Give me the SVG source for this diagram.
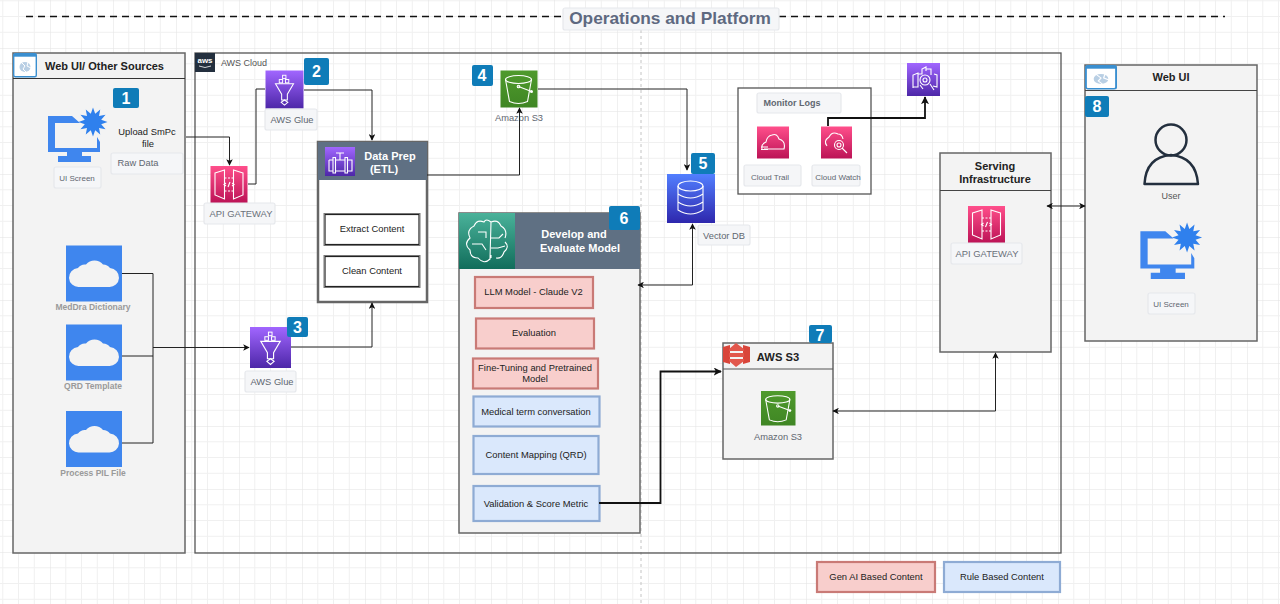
<svg xmlns="http://www.w3.org/2000/svg" xmlns:xlink="http://www.w3.org/1999/xlink" width="1280" height="604" viewBox="0 0 1280 604">
<style>
text{font-family:"Liberation Sans",Arial,sans-serif;text-anchor:middle}
.panel{fill:#f3f3f3;stroke:#666;stroke-width:1.5}
.hdr{stroke:#333;stroke-width:1.2;fill:none}
.tag{fill:#f5f6f8;stroke:#e6e8ec;stroke-width:1.2}
.gl{font-size:9.300px;fill:#5f6670}
.gb{font-size:8.500px;font-weight:bold;fill:#9a9a9a}
.ttl{font-size:11px;font-weight:bold;fill:#222}
.wh{font-size:11px;font-weight:bold;fill:#fff}
.in{font-size:9.400px;fill:#222}
.badge{fill:#0f7cb8}
.num{font-size:16px;font-weight:bold;fill:#fff}
.c{fill:none;stroke:#222;stroke-width:1}
.c2{fill:none;stroke:#111;stroke-width:1.8}
.red{fill:#f8cecc;stroke:#c97a76;stroke-width:2.2}
.blue{fill:#dae8fc;stroke:#8eabd4;stroke-width:2.2}
.ic{fill:none;stroke:#fff;stroke-width:1.1}
</style>
<defs>
<pattern id="grid" width="63" height="63" patternUnits="userSpaceOnUse" x="50" y="48">
<path d="M0 15.750H63M0 31.500H63M0 47.250H63M15.750 0V63M31.500 0V63M47.250 0V63" fill="none" stroke="#f0f0f0" stroke-width="1"/>
<path d="M0 0H63M0 0V63" fill="none" stroke="#e2e2e2" stroke-width="1"/>
</pattern>
<linearGradient id="pur" x1="0" y1="1" x2="0" y2="0"><stop offset="0" stop-color="#4d27a8"/><stop offset="1" stop-color="#a166ff"/></linearGradient>
<linearGradient id="pink" x1="0" y1="1" x2="0" y2="0"><stop offset="0" stop-color="#bc1356"/><stop offset="1" stop-color="#ff4f8b"/></linearGradient>
<linearGradient id="grn" x1="0" y1="1" x2="0" y2="0"><stop offset="0" stop-color="#3f8624"/><stop offset="1" stop-color="#4f9a2c"/></linearGradient>
<linearGradient id="blu" x1="0" y1="1" x2="0" y2="0"><stop offset="0" stop-color="#2e27ad"/><stop offset="1" stop-color="#527fff"/></linearGradient>
<linearGradient id="teal" x1="0" y1="1" x2="0" y2="0"><stop offset="0" stop-color="#116d5b"/><stop offset="1" stop-color="#4ab29a"/></linearGradient>
<marker id="a" viewBox="0 0 10 10" refX="9" refY="5" markerWidth="6.500" markerHeight="6.500" orient="auto-start-reverse" markerUnits="userSpaceOnUse"><path d="M0 0L10 5L0 10L2.500 5Z" fill="#111"/></marker>
<marker id="b" viewBox="0 0 10 10" refX="9" refY="5" markerWidth="8" markerHeight="8" orient="auto-start-reverse" markerUnits="userSpaceOnUse"><path d="M0 0L10 5L0 10L2.500 5Z" fill="#111"/></marker>
<symbol id="cloud" viewBox="0 0 56 56" overflow="visible"><rect width="56" height="56" fill="#3f86ee"/><path d="M13 41.500a9.500 9.500 0 0 1-1-19 8.500 8.500 0 0 1 8-3.500 11 11 0 0 1 17 0 8.500 8.500 0 0 1 7 3.500 9.500 9.500 0 0 1-1 19Z" fill="#f3f3f3"/></symbol>
<symbol id="screen" viewBox="0 0 60 54" overflow="visible">
<path fill-rule="evenodd" d="M0 7H24L32 14H7V39H49V28L52 33V43H34V47H43V53H10V47H19V43H0Z" fill="#3f86ee"/>
<path d="M59.500 13L53.210 15.200L57.560 20.250L51.010 19.010L52.250 25.560L47.200 21.210L45 27.500L42.800 21.210L37.750 25.560L38.990 19.010L32.440 20.250L36.790 15.200L30.500 13L36.790 10.800L32.440 5.750L38.990 6.990L37.750 .44L42.800 4.790L45 -1.500L47.200 4.790L52.250 .44L51.010 6.990L57.560 5.750L53.210 10.800Z" fill="#2f80ed"/>
</symbol>
<symbol id="glue" viewBox="0 0 40 40" overflow="visible">
<rect width="40" height="40" fill="url(#pur)"/>
<path class="ic" d="M10.500 14H29.500L23 25V31H17V25Z"/><path class="ic" d="M20 31l3.500 2.500-3.500 3-3.500-3Z"/><rect x="18" y="5" width="3.500" height="3.500" fill="none" stroke="#fff"/><rect x="14.500" y="9.500" width="3.500" height="3.500" fill="none" stroke="#fff"/><rect x="21" y="9.500" width="3.500" height="3.500" fill="none" stroke="#fff"/>
</symbol>
<symbol id="api" viewBox="0 0 37 37" overflow="visible">
<rect width="37" height="37" fill="url(#pink)"/>
<path class="ic" d="M4.500 7L14 4V33L4.500 29Z"/><path class="ic" d="M32.500 7L23 4V33L32.500 29Z"/><path class="ic" stroke-dasharray="2 1.500" d="M14 12H23M14 25H23"/><path class="ic" d="M15.500 20l-2-1.500 2-1.500M21.500 17l2 1.500-2 1.500M19.500 16l-2 5"/>
</symbol>
<symbol id="bucket" viewBox="0 0 37 37" overflow="visible">
<rect width="37" height="37" fill="url(#grn)"/>
<ellipse cx="18" cy="9" rx="13" ry="4" class="ic"/><path class="ic" d="M5 9L9 31Q18 35 27 31L31 9"/><circle cx="18" cy="16" r="1.300" class="ic"/><path class="ic" d="M18 16L31 21"/><circle cx="31" cy="21" r="1.500" fill="#fff"/>
</symbol>
<symbol id="globe" viewBox="0 0 24 24" overflow="visible" preserveAspectRatio="none">
<rect x="0.700" y="0.700" width="22.600" height="23" rx="1.500" fill="#fff" stroke="#3a8fd0" stroke-width="1.400"/><rect x="0.700" y="0.700" width="22.600" height="3" fill="#3a8fd0"/><ellipse cx="12" cy="14" rx="5.500" ry="5" fill="#b9cfe4"/><path d="M9 10l3 3-2 3 3 3M15 9l-1 4 4 2" fill="none" stroke="#fff"/>
</symbol>
</defs>

<rect width="1280" height="604" fill="#fff"/>
<rect width="1280" height="604" fill="url(#grid)"/>
<path d="M641 30V604" stroke="#c4c4c4" stroke-dasharray="3 3" fill="none"/>

<g id="operations-title">
<path d="M26 16.500H562M779 16.500H1225" stroke="#111" stroke-width="1.300" stroke-dasharray="7 5" fill="none"/>
<rect x="563" y="8" width="216" height="22" rx="2" class="tag"/>
<text x="670" y="23.500" font-size="17.300" font-weight="bold" fill="#5e6980">Operations and Platform</text>
</g>

<g id="aws-cloud">
<rect x="195" y="53" width="866" height="500" fill="none" stroke="#555" stroke-width="1.300"/>
<rect x="195" y="53" width="20" height="19" fill="#232f3e"/>
<text x="205" y="63" font-size="8" font-weight="bold" fill="#fff">aws</text>
<path d="M199 66Q205 69 211 66" fill="none" stroke="#fff" stroke-width="0.800"/>
<text x="244" y="66" font-size="9" fill="#555">AWS Cloud</text>
</g>

<g id="web-ui-sources">
<rect x="13" y="53" width="172" height="500" class="panel"/>
<path d="M13 78.500H185" class="hdr"/>
<use href="#globe" x="13" y="53" width="24" height="24"/>
<text x="104.500" y="70" class="ttl">Web UI/ Other Sources</text>
</g>

<g id="ui-screen-1">
<use href="#screen" x="48" y="109" width="60" height="54"/>
<rect x="54" y="167" width="47" height="21" rx="2" class="tag"/>
<text x="77" y="181" font-size="8" fill="#5f6670">UI Screen</text>
<text x="147" y="135" font-size="9.400" fill="#222">Upload SmPc</text>
<text x="148" y="147" font-size="9.400" fill="#222">file</text>
<rect x="111" y="153" width="72" height="21" rx="2" class="tag"/>
<text x="138" y="166" class="gl">Raw Data</text>
</g>

<g id="meddra"><use href="#cloud" x="66" y="245.500" width="56" height="56"/><text x="93" y="310" class="gb">MedDra Dictionary</text></g>
<g id="qrd"><use href="#cloud" x="66" y="324.500" width="56" height="56"/><text x="93" y="389" class="gb">QRD Template</text></g>
<g id="pil"><use href="#cloud" x="66" y="411" width="56" height="56"/><text x="93" y="476" class="gb">Process PIL File</text></g>

<g id="api-gateway-1">
<use href="#api" x="210.500" y="166" width="37" height="37"/>
<rect x="204" y="203" width="71" height="21" rx="2" class="tag"/>
<text x="241" y="217" font-size="9.400" fill="#6a7078">API GATEWAY</text>
</g>
<g id="aws-glue-2">
<use href="#glue" x="265" y="70.500" width="39" height="38"/>
<rect x="265" y="109" width="52" height="21" rx="2" class="tag"/>
<text x="292" y="123" class="gl">AWS Glue</text>
</g>
<g id="aws-glue-3">
<use href="#glue" x="250" y="327" width="41" height="41"/>
<rect x="245" y="371" width="51" height="21" rx="2" class="tag"/>
<text x="272" y="385" class="gl">AWS Glue</text>
</g>

<g id="data-prep">
<rect x="318" y="142" width="109" height="160" fill="#fff" stroke="#666" stroke-width="2.500"/>
<rect x="318" y="142" width="109" height="38" fill="#5f7083"/>
<rect x="325" y="147" width="30" height="29" fill="url(#pur)"/>
<path class="ic" d="M329 160V171H333M329 160H333M333 157.500V173H335.500V157.500ZM335.500 160H345M335.500 171H345M345 157.500V173H347.500V157.500ZM347.500 160H352V171H347.500M340 160V153M336 153H344"/>
<text x="390" y="160" class="wh">Data Prep</text>
<text x="384" y="173" class="wh">(ETL)</text>
<rect x="325" y="214.500" width="94" height="30" fill="#fff" stroke="#222" stroke-width="1.200"/><rect x="324" y="213.500" width="96" height="32" fill="none" stroke="#777"/>
<text x="372" y="232" class="in">Extract Content</text>
<rect x="325" y="256.500" width="94" height="30" fill="#fff" stroke="#222" stroke-width="1.200"/><rect x="324" y="255.500" width="96" height="32" fill="none" stroke="#777"/>
<text x="372" y="274" class="in">Clean Content</text>
</g>

<g id="amazon-s3-4">
<use href="#bucket" x="500.500" y="70.500" width="37" height="37"/>
<text x="519" y="121" class="gl">Amazon S3</text>
</g>

<g id="vector-db">
<rect x="667" y="174" width="48" height="49" fill="url(#blu)"/>
<ellipse cx="690.500" cy="186" rx="12.500" ry="5" class="ic" stroke-width="1.400"/>
<path class="ic" d="M678 186V210Q690.500 218 703 210V186M678 194Q690.500 202 703 194M678 202Q690.500 210 703 202"/>
<rect x="698" y="225" width="52" height="20" rx="2" class="tag"/>
<text x="724" y="239" class="gl">Vector DB</text>
</g>

<g id="monitor-logs">
<rect x="738" y="88" width="133" height="106" fill="#fff" stroke="#555" stroke-width="1.300"/>
<rect x="757" y="93" width="84" height="20" rx="2" class="tag"/>
<text x="792" y="106" font-size="9" font-weight="bold" fill="#5f6670">Monitor Logs</text>
<rect x="757" y="126.500" width="32" height="32" fill="url(#pink)"/>
<path class="ic" d="M764 149H784Q786 141 779 139Q777 133 772 135Q767 136 766 142Q761 144 762 149M761 147H768M761 149.500H768"/>
<rect x="821" y="126.500" width="31" height="32" fill="url(#pink)"/>
<path class="ic" d="M827 146Q823 141 829 137Q832 131 838 134Q842 134 843 139M842 148l5 5"/><circle cx="839" cy="145" r="4.500" class="ic"/><circle cx="839" cy="145" r="2" class="ic"/>
<rect x="744" y="165" width="57" height="21" rx="2" class="tag"/>
<text x="770" y="180" font-size="8" fill="#5f6670">Cloud Trail</text>
<rect x="812" y="165" width="48" height="21" rx="2" class="tag"/>
<text x="838" y="180" font-size="8" fill="#5f6670">Cloud Watch</text>
</g>

<g id="cloud-ops-icon">
<rect x="907" y="63" width="33" height="33" fill="url(#pur)"/>
<path class="ic" d="M913 88V75L918 73V87H913M918 74H922V69L926 67V71M926 69H931V75M934 74L937 75V87L933 86M923 89L920 85M930 84L934 90"/><circle cx="925" cy="80" r="5" class="ic"/><circle cx="925" cy="80" r="2" class="ic"/>
</g>

<g id="develop-evaluate">
<rect x="459" y="213" width="181" height="320" class="panel"/>
<rect x="459" y="213" width="181" height="56" fill="#5f7083"/>
<rect x="459" y="213" width="56" height="56" fill="url(#teal)"/>
<path class="ic" stroke-width="1.300" d="M484 222Q477 219 474 226Q466 230 470 238Q463 244 470 250Q470 258 478 258Q484 265 490 259L491 222Q486 218 484 222ZM491 222Q498 219 501 226Q508 230 505 238M505 242Q510 247 504 252Q502 259 496 258M478 232H486V238M472 244H482L486 250M491 238H499L503 234M491 248H498L505 246M491 255V258"/>
<text x="574" y="238" class="wh">Develop and</text>
<text x="580" y="252" class="wh">Evaluate Model</text>
<rect x="475" y="277" width="118" height="31" class="red"/><text x="533.500" y="295" class="in">LLM Model - Claude V2</text>
<rect x="476" y="318.500" width="118" height="30" class="red"/><text x="534" y="336" class="in">Evaluation</text>
<rect x="473" y="358.500" width="125" height="30" class="red"/><text x="535" y="370.500" class="in">Fine-Tuning and Pretrained</text><text x="535" y="382" class="in">Model</text>
<rect x="473.500" y="396.500" width="126" height="30" class="blue"/><text x="536" y="414.500" class="in">Medical term conversation</text>
<rect x="473.500" y="436" width="125" height="38" class="blue"/><text x="536" y="458" class="in">Content Mapping (QRD)</text>
<rect x="473.500" y="486" width="126" height="35" class="blue"/><text x="536" y="507" class="in">Validation &amp; Score Metric</text>
</g>

<g id="aws-s3-7">
<rect x="723" y="343" width="110" height="116" class="panel"/>
<path d="M723 369H833" stroke="#555" stroke-width="1.200"/>
<path d="M723 347L730 345V364L723 362Z" fill="#d9453a"/>
<path d="M743 345L750 347V362L743 364Z" fill="#d9453a"/>
<path d="M729 349L736 343L744 349V351H729ZM729 353H744V357H729ZM729 359H744V361L736 367L729 361Z" fill="#e2574c"/>
<text x="778" y="361" font-size="11.200" font-weight="bold" fill="#222">AWS S3</text>
<use href="#bucket" x="761" y="391" width="34.500" height="34.500"/>
<text x="778" y="440" class="gl">Amazon S3</text>
</g>

<g id="serving-infrastructure">
<rect x="940" y="153" width="111" height="199" class="panel"/>
<path d="M940 190.500H1051" stroke="#444" stroke-width="1.200"/>
<text x="995" y="170" class="ttl">Serving</text>
<text x="995" y="183" class="ttl">Infrastructure</text>
<use href="#api" x="968" y="206" width="37" height="37"/>
<rect x="951" y="243" width="71" height="21" rx="2" class="tag"/>
<text x="987" y="257" font-size="9.400" fill="#6a7078">API GATEWAY</text>
</g>

<g id="web-ui-8">
<rect x="1085" y="65" width="172" height="276" class="panel"/>
<path d="M1085 90.500H1257" stroke="#444" stroke-width="1.200"/>
<use href="#globe" x="1085" y="65" width="32" height="24"/>
<text x="1171" y="81" class="ttl">Web UI</text>
<circle cx="1171" cy="140" r="15.500" fill="none" stroke="#232f3e" stroke-width="2.500"/>
<path d="M1144.500 184Q1146 157 1171 155Q1196 157 1198 184Z" fill="none" stroke="#232f3e" stroke-width="2.500" stroke-linejoin="round"/>
<text x="1171" y="199" font-size="9" fill="#555">User</text>
<use href="#screen" x="1140" y="224" width="63" height="56"/>
<rect x="1148" y="293" width="47" height="21" rx="2" class="tag"/>
<text x="1171" y="307" font-size="8" fill="#5f6670">UI Screen</text>
</g>

<g id="legend">
<rect x="817" y="562" width="118" height="30" class="red"/><text x="876" y="580" class="in">Gen AI Based Content</text>
<rect x="944" y="562" width="116" height="30" class="blue"/><text x="1002" y="580" class="in">Rule Based Content</text>
</g>

<g id="badges">
<rect x="113" y="88" width="26" height="20" rx="2" class="badge"/><text x="126" y="104" class="num">1</text>
<rect x="304" y="58" width="25" height="27" rx="2" class="badge"/><text x="316.500" y="77" class="num">2</text>
<rect x="287" y="317" width="21" height="20" rx="2" class="badge"/><text x="297.500" y="333" class="num">3</text>
<rect x="472" y="65" width="21" height="21" rx="2" class="badge"/><text x="482" y="81" class="num">4</text>
<rect x="691" y="153" width="24" height="21" rx="2" class="badge"/><text x="703" y="169" class="num">5</text>
<rect x="609" y="206" width="31" height="24" rx="2" class="badge"/><text x="624" y="224" class="num">6</text>
<rect x="809" y="325" width="23" height="18" rx="2" class="badge"/><text x="820" y="341" class="num">7</text>
<rect x="1085" y="96" width="24" height="21" rx="2" class="badge"/><text x="1097" y="112" class="num">8</text>
</g>

<g id="connectors">
<path class="c" d="M186 137H229.500V165" marker-end="url(#a)"/>
<path class="c" d="M248 184H256V89H265"/>
<path class="c" d="M304 90H372V140" marker-end="url(#a)"/>
<path class="c" d="M427 175H519.500V108" marker-end="url(#a)"/>
<path class="c" d="M538 89H687V170" marker-end="url(#a)"/>
<path class="c" d="M291 347H372V303" marker-end="url(#a)"/>
<path class="c" d="M122 273.500H153V443H122M122 356H153"/>
<path class="c" d="M153 347.500H249" marker-end="url(#a)"/>
<path class="c" d="M638 285H692.500V224" marker-start="url(#a)" marker-end="url(#a)"/>
<path class="c2" d="M599 503H660.500V371.500H721" marker-end="url(#b)"/>
<path class="c" d="M833 411H995.500V353" marker-start="url(#a)" marker-end="url(#a)"/>
<path class="c" d="M1047 206H1085" marker-start="url(#a)" marker-end="url(#a)"/>
<path class="c2" d="M828 126V118H925V97" marker-end="url(#b)"/>
</g>
</svg>
